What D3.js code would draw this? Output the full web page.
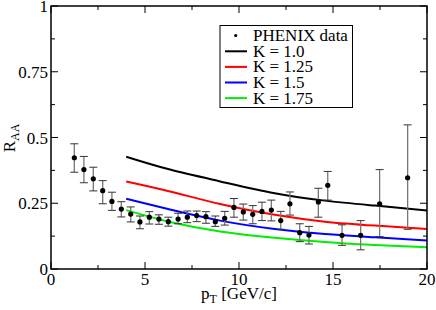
<!DOCTYPE html>
<html>
<head>
<meta charset="utf-8">
<script src="https://cdn.jsdelivr.net/npm/d3@7"></script>
<style>
  body { margin: 0; background: white; }
</style>
</head>
<body>
<script>
'use strict'

// PHENIX data points
let pt    = [1.24, 1.75, 2.25, 2.75, 3.24, 3.74, 4.24, 4.73, 5.23, 5.74, 6.24, 6.76, 7.25, 7.75, 8.24, 8.74,
             9.24, 9.73, 10.23, 10.73, 11.22, 11.72, 12.22, 12.71, 13.23, 13.72, 14.22, 14.72, 15.48, 16.47, 17.48, 18.97]
let raa   = [0.423, 0.378, 0.343, 0.298, 0.257, 0.228, 0.209, 0.179, 0.197, 0.190, 0.180, 0.190, 0.197, 0.203, 0.199, 0.180,
             0.193, 0.234, 0.217, 0.208, 0.219, 0.224, 0.184, 0.248, 0.138, 0.129, 0.255, 0.318, 0.128, 0.128, 0.248, 0.347]
let errHi = [0.476, 0.428, 0.387, 0.336, 0.292, 0.256, 0.236, 0.2015, 0.218, 0.206, 0.197, 0.212, 0.2205, 0.2205, 0.218, 0.2015,
             0.219, 0.268, 0.247, 0.241, 0.254, 0.262, 0.219, 0.293, 0.172, 0.162, 0.307, 0.371, 0.168, 0.184, 0.378, 0.548]
let errLo = [0.368, 0.328, 0.297, 0.248, 0.223, 0.198, 0.179, 0.153, 0.171, 0.170, 0.163, 0.172, 0.176, 0.180, 0.174, 0.162,
             0.167, 0.197, 0.186, 0.172, 0.184, 0.183, 0.151, 0.205, 0.104, 0.095, 0.197, 0.262, 0.090, 0.073, 0.123, 0.151]

// model curves, read at these pT values
let curvePt = [4, 6.33, 9, 11.9, 14.57, 17.23, 20]
let kLabels = ['K = 1.0', 'K = 1.25', 'K = 1.5', 'K = 1.75']
let kColors = ['black', 'red', 'blue', '#00ee00']
let kValues = [
    [0.427, 0.378, 0.333, 0.288, 0.260, 0.241, 0.222],
    [0.333, 0.295, 0.247, 0.206, 0.180, 0.165, 0.152],
    [0.267, 0.226, 0.184, 0.152, 0.133, 0.1205, 0.108],
    [0.224, 0.179, 0.143, 0.119, 0.1027, 0.091, 0.0825]
]

let xTicks = [0, 5, 10, 15, 20],
    yTicks = [0, 0.25, 0.5, 0.75, 1],
    yTickLabels = ['0', '0.25', '0.5', '0.75', '1']

let width = 436,
    height = 310,
    mLeft = 51, mRight = 427, mTop = 6, mBottom = 269

let svg = d3.select('body').append('svg')
    .attr('width', width)
    .attr('height', height)
    .attr('font-family', "'Liberation Serif', 'Times New Roman', Times, serif")

let x = d3.scaleLinear().domain([0, 20]).range([mLeft, mRight])
let y = d3.scaleLinear().domain([0, 1]).range([mBottom, mTop])

let fontSize = 17

// model lines
let line = d3.line()
    .x(function(d) { return x(d[0]) })
    .y(function(d) { return y(d[1]) })
    .curve(d3.curveNatural)

kValues.forEach(function(vals, k) {
    svg.append('path')
        .datum(curvePt.map(function(p, i) { return [p, vals[i]] }))
        .attr('d', line)
        .attr('fill', 'none')
        .attr('stroke', kColors[k])
        .attr('stroke-width', 2)
})

// error bars
let pts = pt.map(function(p, i) { return {p: p, v: raa[i], hi: errHi[i], lo: errLo[i]} })
let bars = svg.append('g').attr('stroke', '#333').attr('stroke-width', 1)
pts.forEach(function(d) {
    let cx = x(d.p)
    bars.append('line')
        .attr('x1', cx).attr('x2', cx)
        .attr('y1', y(d.hi)).attr('y2', y(d.lo))
        .attr('stroke', '#777').attr('stroke-width', 1.3)
    ;[d.hi, d.lo].forEach(function(e) {
        bars.append('line')
            .attr('x1', cx - 4).attr('x2', cx + 4)
            .attr('y1', y(e)).attr('y2', y(e))
    })
})

svg.selectAll('.dot').data(pts).enter()
    .append('circle')
    .attr('class', 'dot')
    .attr('cx', function(d) { return x(d.p) })
    .attr('cy', function(d) { return y(d.v) })
    .attr('r', 2.6)
    .attr('fill', 'black')

// frame and ticks
svg.append('rect')
    .attr('x', mLeft).attr('y', mTop)
    .attr('width', mRight - mLeft).attr('height', mBottom - mTop)
    .attr('fill', 'none').attr('stroke', 'black').attr('stroke-width', 1.5)

let ticks = svg.append('g').attr('stroke', 'black').attr('stroke-width', 1)
d3.range(0, 20.01, 2.5).forEach(function(t, i) {
    let len = i % 2 === 0 ? 7 : 4
    ticks.append('line').attr('x1', x(t)).attr('x2', x(t)).attr('y1', mBottom).attr('y2', mBottom - len)
    ticks.append('line').attr('x1', x(t)).attr('x2', x(t)).attr('y1', mTop).attr('y2', mTop + len)
})
d3.range(0, 1.001, 0.125).forEach(function(t, i) {
    let len = i % 2 === 0 ? 7 : 4
    ticks.append('line').attr('y1', y(t)).attr('y2', y(t)).attr('x1', mLeft).attr('x2', mLeft + len)
    ticks.append('line').attr('y1', y(t)).attr('y2', y(t)).attr('x1', mRight).attr('x2', mRight - len)
})

svg.selectAll('.xlab').data(xTicks).enter()
    .append('text')
    .attr('class', 'xlab')
    .attr('x', function(d) { return x(d) })
    .attr('y', 285)
    .attr('text-anchor', 'middle')
    .attr('font-size', fontSize)
    .text(function(d) { return d })

svg.selectAll('.ylab').data(yTicks).enter()
    .append('text')
    .attr('class', 'ylab')
    .attr('x', mLeft - 3)
    .attr('y', function(d) { return y(d) + 6 })
    .attr('text-anchor', 'end')
    .attr('font-size', fontSize)
    .text(function(d, i) { return yTickLabels[i] })

// axis titles
let xTitle = svg.append('text')
    .attr('x', 239).attr('y', 299)
    .attr('text-anchor', 'middle')
    .attr('font-size', fontSize)
xTitle.append('tspan').text('p')
xTitle.append('tspan').attr('dy', 4).attr('font-size', 12).text('T')
xTitle.append('tspan').attr('dy', -4).text(' [GeV/c]')

let yTitle = svg.append('text')
    .attr('transform', 'translate(15,138) rotate(-90)')
    .attr('text-anchor', 'middle')
    .attr('font-size', fontSize)
yTitle.append('tspan').text('R')
yTitle.append('tspan').attr('dy', 4).attr('font-size', 12).text('AA')

// legend
let legend = svg.append('g')
legend.append('rect')
    .attr('x', 220).attr('y', 25.5)
    .attr('width', 132.5).attr('height', 82)
    .attr('fill', 'white').attr('stroke', 'black').attr('stroke-width', 1)

legend.append('circle').attr('cx', 235.7).attr('cy', 35.5).attr('r', 1.6).attr('fill', 'black')
legend.append('text').attr('x', 253).attr('y', 41).attr('font-size', fontSize).text('PHENIX data')

kLabels.forEach(function(lab, k) {
    let ly = 51.3 + k * 15.6
    legend.append('line')
        .attr('x1', 225).attr('x2', 247)
        .attr('y1', ly).attr('y2', ly)
        .attr('stroke', kColors[k]).attr('stroke-width', 2)
    legend.append('text')
        .attr('x', 253).attr('y', ly + 5.5)
        .attr('font-size', fontSize)
        .text(lab)
})
</script>
</body>
</html>
